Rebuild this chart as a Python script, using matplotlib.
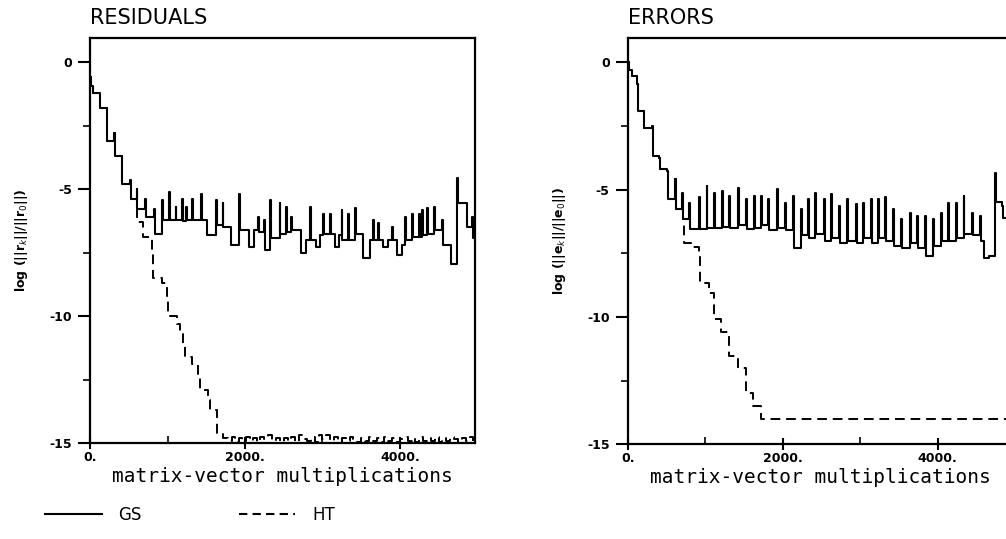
import matplotlib as mlp
mlp.use('Agg')
import matplotlib.pyplot as plt
from matplotlib.ticker import MultipleLocator, FixedLocator
from matplotlib.lines import Line2D

# RESIDUALS panel, GS (solid, stepped)
res_gs_x = [0, 15, 40, 130, 216, 310, 325, 411, 510, 525, 600, 612, 714, 726, 822, 834,
            931, 943, 1017, 1029, 1104, 1116, 1190, 1202, 1234, 1246, 1320, 1332, 1429, 1441,
            1515, 1623, 1635, 1710, 1722, 1818, 1926, 1938, 2056, 2120, 2165, 2177, 2251, 2263,
            2329, 2341, 2446, 2458, 2532, 2544, 2597, 2609, 2727, 2790, 2835, 2847, 2922, 2970,
            3009, 3021, 3095, 3107, 3160, 3215, 3247, 3259, 3333, 3345, 3420, 3432, 3528, 3610,
            3658, 3670, 3723, 3735, 3788, 3850, 3896, 3908, 3961, 4030, 4069, 4081, 4156, 4168,
            4242, 4254, 4286, 4298, 4351, 4363, 4437, 4449, 4545, 4557, 4654, 4740, 4755, 4870,
            4935, 4947, 5000]
res_gs_y = [-0.6, -0.95, -1.2, -1.8, -3.1, -2.8, -3.7, -4.8, -4.65, -5.4, -5.0, -5.8, -5.4, -6.1, -5.8, -6.75,
            -5.43, -6.2, -5.1, -6.2, -5.7, -6.2, -5.4, -6.25, -5.7, -6.2, -5.4, -6.2, -5.2, -6.2,
            -6.8, -5.43, -6.4, -5.56, -6.5, -7.2, -5.2, -6.6, -7.27, -6.6, -6.1, -6.7, -6.2, -7.4,
            -5.43, -6.94, -5.56, -6.75, -5.7, -6.7, -6.1, -6.6, -7.53, -7.0, -5.7, -7.0, -7.27, -6.8,
            -5.96, -6.75, -5.96, -6.75, -7.27, -6.8, -5.83, -7.0, -5.96, -7.0, -5.76, -6.75, -7.73, -7.0,
            -6.22, -7.0, -6.35, -7.0, -7.27, -7.0, -6.48, -7.0, -7.6, -7.2, -6.09, -7.0, -5.96, -6.9,
            -5.96, -6.9, -5.83, -6.8, -5.76, -6.75, -5.7, -6.6, -6.22, -7.2, -7.93, -4.58, -5.56, -6.48,
            -6.09, -6.94, -6.94]

# RESIDUALS panel, HT (dashed)
res_ht_x = [0, 15, 40, 130, 216, 310, 325, 411, 510, 525, 603, 690, 796, 817, 925, 990, 1011,
            1118, 1161, 1204, 1226, 1312, 1398, 1419, 1527, 1548, 1635, 1720, 1780, 1830, 1870,
            1920, 1960, 2010, 2060, 2110, 2160, 2200, 2250, 2300, 2350, 2400, 2450, 2500, 2550,
            2600, 2650, 2700, 2750, 2800, 2850, 2900, 2950, 3000, 3050, 3100, 3150, 3200, 3250,
            3300, 3350, 3400, 3450, 3500, 3550, 3600, 3650, 3700, 3750, 3800, 3850, 3900, 3950,
            4000, 4050, 4100, 4150, 4200, 4250, 4300, 4350, 4400, 4450, 4500, 4550, 4600, 4650,
            4700, 4750, 4800, 4850, 4900, 4950]
res_ht_y = [-0.6, -0.95, -1.2, -1.8, -3.1, -2.8, -3.7, -4.8, -4.65, -5.4, -6.3, -6.9, -7.5, -8.5, -8.7, -9.2, -10.0,
            -10.3, -10.7, -11.1, -11.6, -11.9, -12.3, -12.9, -13.3, -13.7, -14.6, -14.8, -14.9, -14.75, -14.95,
            -14.8, -14.9, -14.75, -14.9, -14.8, -14.95, -14.75, -14.85, -14.7, -14.9, -14.8, -14.95, -14.8, -14.9,
            -14.75, -14.95, -14.7, -14.85, -14.9, -14.75, -14.95, -14.7, -14.85, -14.7, -14.9, -14.75, -14.95, -14.8,
            -14.9, -14.75, -14.85, -14.95, -14.8, -14.9, -14.75, -14.9, -14.8, -14.95, -14.75, -14.9, -14.8, -14.95,
            -14.85, -14.75, -14.9, -14.8, -14.95, -14.75, -14.9, -14.8, -14.9, -14.75, -14.95, -14.8, -14.9, -14.75,
            -14.85, -14.95, -14.8, -14.9, -14.75, -14.9]

# ERRORS panel, GS
err_gs_x = [0, 20, 52, 117, 126, 204, 213, 313, 326, 400, 413, 510, 522, 604, 617, 704, 717, 791, 803,
            922, 934, 1017, 1029, 1117, 1129, 1213, 1225, 1313, 1325, 1422, 1434, 1530, 1542, 1626, 1638,
            1717, 1729, 1813, 1825, 1922, 1934, 2030, 2042, 2139, 2151, 2239, 2251, 2326, 2338, 2422, 2434,
            2530, 2542, 2630, 2642, 2726, 2738, 2835, 2847, 2943, 2955, 3039, 3051, 3139, 3151, 3235, 3247,
            3326, 3338, 3422, 3434, 3530, 3542, 3639, 3651, 3735, 3747, 3835, 3847, 3943, 3955, 4039, 4051,
            4139, 4151, 4239, 4251, 4335, 4347, 4443, 4455, 4543, 4555, 4596, 4661, 4735, 4750, 4835, 4847, 4980]
err_gs_y = [0.0, -0.3, -0.52, -0.85, -1.9, -1.95, -2.56, -2.5, -3.67, -3.75, -4.2, -4.25, -5.38, -4.6, -5.77, -5.12, -6.17, -5.51, -6.56,
            -5.31, -6.56, -4.86, -6.5, -5.12, -6.5, -5.05, -6.45, -5.25, -6.5, -4.92, -6.4, -5.38, -6.56, -5.25, -6.5,
            -5.25, -6.4, -5.38, -6.6, -4.99, -6.5, -5.51, -6.6, -5.25, -7.28, -5.77, -6.8, -5.38, -6.9, -5.12, -6.75,
            -5.38, -7.0, -5.18, -6.9, -5.64, -7.09, -5.38, -7.0, -5.58, -7.09, -5.51, -6.9, -5.38, -7.09, -5.38, -6.9,
            -5.31, -7.0, -5.77, -7.2, -6.17, -7.28, -5.91, -7.09, -6.04, -7.3, -6.04, -7.6, -6.17, -7.2, -5.91, -7.0,
            -5.51, -7.0, -5.51, -6.9, -5.25, -6.75, -5.91, -6.8, -6.04, -7.0, -7.68, -7.6, -4.33, -5.5, -5.64, -6.1, -6.1]

# ERRORS panel, HT
err_ht_x = [0, 20, 52, 117, 126, 204, 213, 313, 326, 400, 413, 510, 522, 604, 617, 704, 717, 726,
            835, 922, 935, 1052, 1117, 1204, 1313, 1422, 1530, 1617, 1726, 4980]
err_ht_y = [0.0, -0.3, -0.52, -0.85, -1.9, -1.95, -2.56, -2.5, -3.67, -3.75, -4.2, -4.25, -5.38, -4.6, -5.77, -5.12, -6.17, -7.1,
            -7.25, -7.55, -8.66, -9.06, -10.1, -10.6, -11.55, -12.0, -13.0, -13.5, -14.0, -14.0]

xticks = [0, 2000, 4000]
xtick_labels = ['0.', '2000.', '4000.']
yticks = [0, -5, -10, -15]
ytick_labels = ['0', '-5', '-10', '-15']

fig = plt.figure(figsize=(10.06, 5.39), dpi=100)
ax1 = fig.add_axes([0.0895, 0.178, 0.3827, 0.7514])
ax2 = fig.add_axes([0.624, 0.176, 0.3827, 0.7532])

panels = [(ax1, res_gs_x, res_gs_y, res_ht_x, res_ht_y, 'RESIDUALS', 'log (||r$_k$||/||r$_0$||)'),
          (ax2, err_gs_x, err_gs_y, err_ht_x, err_ht_y, 'ERRORS', 'log (||e$_k$||/||e$_0$||)')]

for ax, gx, gy, hx, hy, title, ylab in panels:
    ax.step(hx, hy, where='post', color='black', lw=1.4, ls=(0, (5, 3)))
    ax.step(gx, gy, where='post', color='black', lw=1.5)
    ax.set_xlim(0, 4970)
    ax.set_ylim(-15, 0.95)
    for s in ax.spines.values():
        s.set_linewidth(1.6)
    ax.set_xticks(xticks)
    ax.set_xticklabels(xtick_labels, fontsize=9, fontweight='bold')
    ax.xaxis.set_minor_locator(FixedLocator([1000, 3000]))
    ax.set_yticks(yticks)
    ax.set_yticklabels(ytick_labels, fontsize=9, fontweight='bold')
    ax.yaxis.set_minor_locator(MultipleLocator(2.5))
    ax.tick_params(axis='x', which='major', direction='inout', length=8, width=1.5, pad=2)
    ax.tick_params(axis='x', which='minor', direction='in', length=5, width=1.2)
    ax.tick_params(axis='y', which='major', direction='out', length=9, width=1.5, pad=4)
    ax.tick_params(axis='y', which='minor', direction='out', length=5, width=1.2)
    ax.set_xlabel('matrix-vector multiplications', family='DejaVu Sans Mono', fontsize=14, labelpad=2)
    ax.set_ylabel(ylab, fontsize=9, fontweight='bold', labelpad=14)
    ax.set_title(title, loc='left', fontsize=15, pad=10)

handles = [Line2D([], [], color='black', lw=1.5),
           Line2D([], [], color='black', lw=1.5, ls=(0, (4, 2.5)))]
fig.legend(handles, ['GS', 'HT'], loc='lower left', bbox_to_anchor=(0.03, 0.0), ncol=2,
           frameon=False, fontsize=12, handlelength=3.4, handletextpad=1.0, columnspacing=5.8)

plt.savefig('out.png', dpi=100)
